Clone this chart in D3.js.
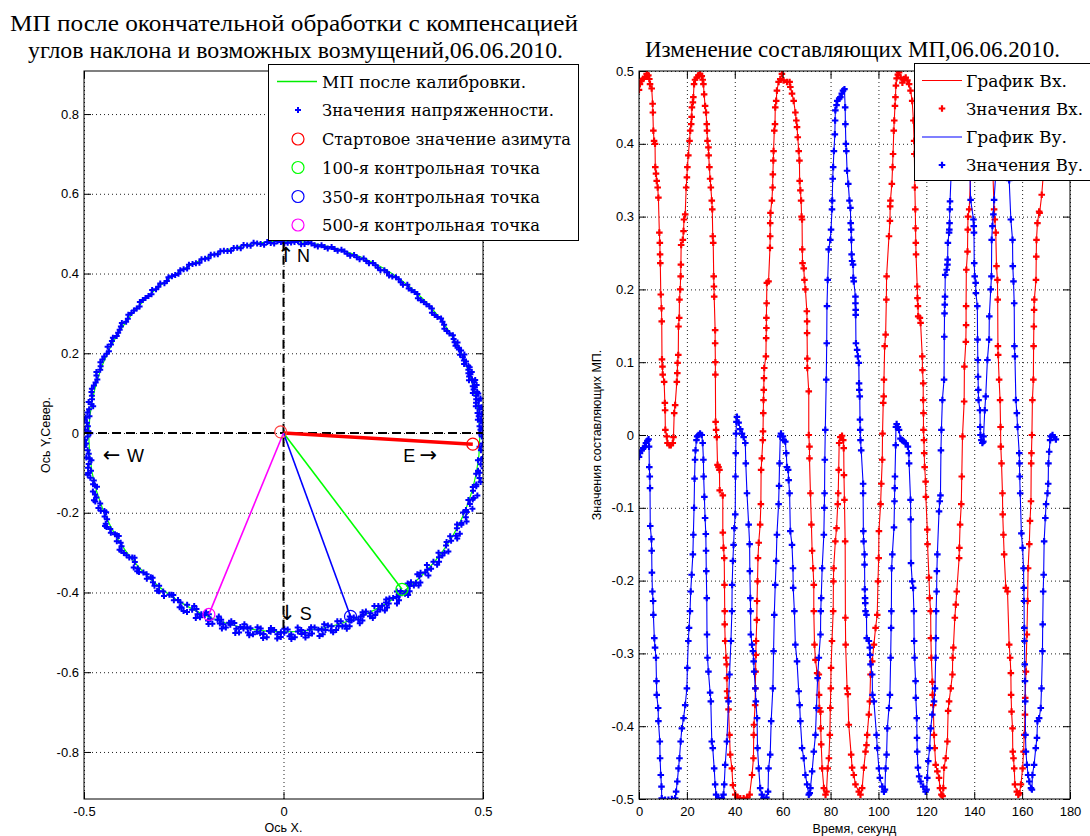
<!DOCTYPE html>
<html><head><meta charset="utf-8">
<script src="https://cdn.jsdelivr.net/npm/d3@7"></script>
<style>body{margin:0;background:#fff}svg{display:block}</style>
</head><body>
<svg id="c" width="1090" height="836"></svg>
<script>
// ---------------- DATA ----------------
const leftTitle = ["МП после окончательной обработки с компенсацией", "углов наклона и возможных возмущений,06.06.2010."];
const rightTitle = "Изменение составляющих МП,06.06.2010.";
const leftXTicks = [-0.5, 0, 0.5];
const leftYTicks = [-0.8, -0.6, -0.4, -0.2, 0, 0.2, 0.4, 0.6, 0.8];
const rightXTicks = [0, 20, 40, 60, 80, 100, 120, 140, 160, 180];
const rightYTicks = [-0.5, -0.4, -0.3, -0.2, -0.1, 0, 0.1, 0.2, 0.3, 0.4, 0.5];
const leftLegend = ["МП после калибровки.", "Значения напряженности.", "Стартовое значение азимута", "100-я контрольная точка", "350-я контрольная точка", "500-я контрольная точка"];
const rightLegend = ["График Вх.", "Значения Вх.", "График Ву.", "Значения Ву."];
// calibrated circle (centre, radius)
const calibCenter = [0.002, -0.009];
const calibRadius = 0.49;
// control points: start, 100th, 350th, 500th
const controlPoints = [[0.4745, -0.028], [0.297, -0.392], [0.168, -0.46], [-0.187, -0.455]];
const controlColors = ["#ff0000", "#00ff00", "#0000ff", "#ff00ff"];
const originMarker = [-0.007, 0.003];
// compass annotations: [text, x, y]
const compassArrows = [["↑", 0.006, 0.429], ["↓", 0.009, -0.469], ["←", -0.431, -0.073], ["→", 0.363, -0.073]];
const compassLetters = [["N", 0.034, 0.429], ["S", 0.041, -0.469], ["W", -0.392, -0.073], ["E", 0.300, -0.073]];
// measured field points: [angle deg around calibCenter, radius]
const fieldPoints = [[0,.495],[2,.492],[4,.498],[6,.49],[8,.494],[10,.488],[12,.492],[14,.489],[16,.495],[18,.487],[20,.491],[22,.486],[24,.49],[26,.493],[28,.486],[30,.49],[32,.488],[34,.484],[36,.49],[38,.487],[40,.483],[42,.489],[44,.486],[46,.482],[48,.488],[50,.485],[52,.483],[54,.488],[56,.484],[58,.486],[60,.482],[62,.487],[64,.484],[66,.489],[68,.485],[70,.483],[72,.488],[74,.485],[76,.49],[78,.486],[80,.484],[82,.489],[84,.486],[86,.491],[88,.487],[90,.485],[92,.49],[94,.487],[96,.484],[98,.489],[100,.486],[102,.491],[104,.488],[106,.485],[108,.49],[110,.487],[112,.492],[114,.488],[116,.485],[118,.49],[120,.487],[122,.492],[124,.489],[126,.494],[128,.488],[130,.491],[132,.495],[134,.49],[136,.493],[138,.488],[140,.492],[142,.496],[144,.49],[146,.494],[148,.491],[150,.496],[152,.492],[154,.489],[156,.494],[158,.497],[160,.491],[162,.495],[164,.492],[166,.497],[168,.493],[170,.498],[172,.494],[174,.491],[176,.496],[178,.499],[180,.493],[182,.497],[184,.494],[186,.499],[188,.495],[190,.492],[192,.497],[194,.494],[196,.499],[198,.495],[200,.491],[202,.496],[204,.493],[206,.498],[208,.494],[210,.49],[212,.495],[214,.492],[216,.497],[218,.493],[220,.489],[222,.494],[224,.491],[226,.496],[228,.492],[230,.488],[232,.493],[234,.49],[236,.495],[238,.491],[240,.487],[242,.492],[244,.496],[246,.49],[248,.494],[250,.489],[252,.495],[254,.491],[256,.497],[258,.492],[260,.488],[262,.494],[264,.498],[266,.491],[268,.496],[270,.492],[272,.497],[274,.49],[276,.495],[278,.499],[280,.492],[282,.496],[284,.49],[286,.494],[288,.498],[290,.491],[292,.495],[294,.489],[296,.493],[298,.497],[300,.49],[302,.494],[304,.488],[306,.492],[308,.496],[310,.489],[312,.493],[314,.487],[316,.491],[318,.495],[320,.488],[322,.492],[324,.496],[326,.489],[328,.493],[330,.497],[332,.49],[334,.494],[336,.498],[338,.491],[340,.495],[342,.499],[344,.492],[346,.496],[348,.5],[350,.493],[352,.497],[354,.501],[356,.494],[358,.498],
[1,.497],[3,.49],[5,.495],[7,.488],[9,.493],[11,.49],[13,.496],[15,.489],[17,.492],[19,.488],[21,.494],[23,.489],[25,.486],[27,.491],[29,.488],[31,.493],[33,.486],[35,.489],[37,.492],[39,.485],[41,.49],[43,.487],[45,.484],[47,.489],[49,.486],[51,.49],[53,.485],[55,.488],[57,.482],[59,.487],[61,.484],[63,.489],[65,.486],[67,.483],[69,.488],[71,.485],[73,.49],[75,.487],[77,.484],[79,.489],[81,.486],[83,.491],[85,.484],[87,.489],[89,.486],[91,.488],[93,.485],[95,.49],[97,.487],[99,.492],[101,.488],[103,.485],[105,.49],[107,.487],[109,.492],[111,.489],[113,.486],[115,.491],[117,.488],[119,.493],[121,.49],[123,.487],[125,.491],[127,.489],[129,.494],[131,.49],[133,.488],[135,.492],[137,.495],[139,.49],[141,.493],[143,.491],[145,.497],[147,.492],[149,.49],[151,.494],[153,.497],[155,.491],[157,.495],[159,.493],[161,.498],[163,.49],[165,.494],[167,.496],[169,.491],[173,.497],[177,.493],[181,.5],[185,.492],[189,.498],[193,.49],[197,.496],[201,.499],[205,.49],[209,.497],[213,.489],[217,.495],[221,.5],[225,.488],[229,.496],[233,.501],[237,.489],
[241,.503],[243,.485],[245,.5],[247,.484],[249,.503],[251,.486],[253,.501],[255,.484],[257,.504],[259,.487],[261,.502],[263,.485],[265,.505],[267,.486],[269,.503],[271,.484],[273,.504],[275,.487],[277,.502],[279,.485],[281,.505],[283,.486],[285,.502],[287,.484],[289,.503],[291,.486],[293,.501],[295,.484],[297,.502],[299,.486],[301,.5],[303,.484],[305,.501],[307,.485],[309,.499],[311,.484],[313,.5],[315,.483],
[240,.505],[242,.481],[244,.506],[246,.482],[248,.507],[250,.48],[252,.506],[254,.482],[256,.508],[258,.481],[260,.506],[262,.483],[264,.508],[266,.481],[268,.507],[270,.482],[272,.508],[274,.48],[276,.507],[278,.483],[280,.508],[282,.481],[284,.506],[286,.482],[288,.507],[290,.48],[292,.505],[294,.482],[296,.506],[298,.481],[300,.504],[302,.482],[304,.505],[306,.48],[308,.504],[310,.481],[312,.503],[314,.48],[316,.502],[318,.481],[320,.5],
[325,.502],[327,.485],[331,.503],[333,.486],[335,.504],[337,.487],[339,.505],[341,.488],[343,.506],[345,.489],[347,.505],[349,.49],[351,.506],[353,.489],[355,.507],[357,.49],[359,.506],[1,.489],[3,.505],[5,.487],[7,.503],[9,.486],[11,.501],[13,.485],[15,.499],[17,.484],[19,.497],
[321,.499],[323,.484],[329,.485],[329.5,.503],[333.5,.496],[337.5,.495],[341.5,.498],[345.5,.497],[349.5,.498],[353.5,.499],[357.5,.5],[0.5,.5],[2.5,.501],[4.5,.494],[6.5,.499],[8.5,.5],[10.5,.496],[12.5,.498],[14.5,.493],[16.5,.499],[18.5,.492],[20.5,.496],[22.5,.493],[24.5,.496],[26.5,.489],[28.5,.494],
[171,.485],[175,.502],[179,.486],[183,.503],[187,.487],[191,.502],[195,.486],[199,.501],[203,.485],[207,.5],[211,.484],[215,.499],[219,.483],[223,.498],[227,.484],[231,.499],[235,.485],[239,.5],
[170.5,.49],[174.5,.5],[178.5,.492],[182.5,.501],[186.5,.491],[190.5,.5],[194.5,.49],[198.5,.503],[202.5,.488],[206.5,.502],[210.5,.487],[214.5,.501],[218.5,.487],[222.5,.5],[226.5,.486],[230.5,.501],[234.5,.487],[238.5,.502],
[245,.492],[251,.496],[257,.49],[263,.497],[269,.491],[275,.497],[281,.492],[287,.498],[293,.49],[299,.496],[305,.491],[311,.495],[317,.49],[323,.496],[247.5,.499],[253.5,.487],[259.5,.5],[265.5,.489],[271.5,.501],[277.5,.488],[283.5,.5],[289.5,.487],[295.5,.499],[301.5,.488],[307.5,.497]];

// time series: [time s, value]
const bxData = [[0,.474],[0.4,.482],[1.1,.487],[1.8,.489],[2.5,.492],[3.2,.496],[3.9,.494],[4.3,.489],[4.6,.482],[5.3,.476],[5.7,.455],[5.8,.443],[6.0,.418],[6.3,.404],[6.7,.4],[6.8,.368],[7.1,.359],[7.4,.349],[7.8,.34],[8.1,.326],[8.5,.278],[8.7,.264],[8.8,.248],[8.9,.236],[9.1,.193],[9.4,.174],[9.5,.156],[9.6,.104],[9.8,.094],[9.9,.083],[10.5,.073],[10.8,.044],[10.9,.034],[11.0,.007],[11.6,-.002],[11.9,-.011],[12.7,-.014],[13.3,-.014],[14.1,-.011],[14.4,-.003],[14.7,.03],[15.1,.041],[15.8,.073],[16.0,.085],[16.1,.099],[16.4,.11],[16.5,.149],[16.8,.161],[16.9,.186],[17.2,.2],[17.4,.218],[17.5,.234],[17.6,.261],[18.3,.268],[18.6,.28],[18.8,.296],[19.3,.303],
[19.7,.34],[20.0,.354],[20.2,.368],[20.6,.384],[21.1,.404],[21.4,.418],[21.8,.427],[22.0,.437],[22.1,.45],[22.5,.457],[22.7,.464],[23.0,.482],[23.4,.488],[24.1,.491],[24.8,.494],[25.5,.496],[26.2,.493],[26.6,.488],[26.9,.482],[27.2,.468],[27.6,.452],[28.0,.443],[28.3,.427],[28.4,.418],[28.6,.404],[29.0,.395],[29.1,.384],[29.4,.368],[29.7,.352],[30.0,.34],[30.4,.322],
[30.6,.31],[30.8,.273],[31.0,.264],[31.2,.218],[31.3,.204],[31.4,.19],[31.8,.144],[31.8,.126],[31.9,.1],[31.9,.083],[32.0,.018],[32.2,.007],[32.5,-.003],[32.8,-.041],[33.2,-.044],[33.6,-.048],[33.7,-.076],[35.0,-.083],
[35.0,-.134],[35.3,-.155],[35.6,-.169],[35.7,-.206],[35.8,-.242],[35.8,-.26],[36.0,-.283],[36.4,-.306],[36.6,-.315],[36.7,-.334],[36.8,-.352],[37.0,-.361],[37.4,-.377],[37.8,-.412],[38.1,-.439],[38.8,-.458],[39.2,-.481],[40.2,-.494],[41.2,-.498],[42.3,-.499],[43.7,-.499],[45.1,-.498],[46.2,-.494],[47.2,-.467],[47.8,-.444],[47.9,-.412],[48.0,-.398],[48.5,-.371],[48.6,-.348],[48.7,-.325],[48.8,-.302],[48.9,-.283],[49.2,-.254],[49.3,-.228],[49.5,-.201],[49.7,-.169],[50.0,-.148],[50.6,-.123],[50.9,-.095],
[51.0,-.048],[51.3,-.032],[51.7,-.007],[51.8,.005],[51.9,.03],[52.0,.048],[52.1,.062],[52.2,.078],[52.3,.092],[53.0,.108],[53.1,.133],[53.2,.147],[53.2,.161],[53.3,.181],[53.4,.209],[54.1,.211],[54.7,.257],[54.8,.273],[54.8,.291],[54.9,.305],
[55.5,.322],[55.8,.34],[55.9,.358],[56.1,.377],[56.2,.39],[56.5,.418],[56.8,.427],[56.9,.45],[57.3,.459],[57.6,.473],[58.3,.485],[59.0,.489],[59.7,.496],[60.4,.487],[61.8,.485],[62.9,.485],[63.2,.478],[63.9,.469],[64.6,.459],[65.3,.443],[65.7,.432],[66.0,.423],[66.3,.409],[66.7,.39],[67.0,.377],[67.1,.349],[67.4,.336],[67.7,.322],
[67.9,.3],[68.1,.296],[68.2,.255],[68.3,.236],[68.8,.229],[69.1,.213],[69.5,.2],[70.1,.17],[70.2,.156],[70.2,.14],[70.3,.105],[70.3,.092],[70.9,.06],[70.9,0],[71.2,-.016],[71.2,-.032],[71.6,-.08],
[72.0,-.123],[72.3,-.159],[72.7,-.183],[73.0,-.206],[73.0,-.242],[73.3,-.288],[73.7,-.309],[74.4,-.327],[75.1,-.329],[75.2,-.357],[75.3,-.375],[75.8,-.38],[75.9,-.403],[76.1,-.425],[76.5,-.458],[77.2,-.485],[77.9,-.494],[78.3,-.49],[78.8,-.458],[79.3,-.444],[79.7,-.412],[79.9,-.375],[80.1,-.348],[80.2,-.32],[80.6,-.283],[81.1,-.242],[81.2,-.201],[81.3,-.183],[82.0,-.146],[82.5,-.128],[83.0,-.095],
[83.2,-.08],[83.4,-.048],[83.6,-.011],[84.1,-.003],[84.8,-.001],[85.3,-.007],[85.5,-.018],[85.6,-.055],[85.8,-.089],
[86.1,-.146],[86.2,-.251],[86.3,-.288],[86.9,-.348],[87.2,-.356],[87.6,-.398],[88.6,-.439],[89.0,-.457],[89.7,-.467],[90.4,-.48],[91.8,-.49],[92.5,-.494],[93.2,-.485],[93.9,-.457],[94.6,-.435],[95.0,-.426],[95.3,-.412],[96.0,-.384],[96.4,-.366],[96.7,-.329],[97.4,-.311],[98.1,-.288],[98.8,-.265],[99.5,-.247],[99.8,-.201],[100.1,-.169],[100.2,-.132],[100.9,-.095],
[101.2,-.067],[101.6,-.034],[101.7,.002],[102.0,.044],[102.2,.053],[102.3,.076],[102.6,.122],[103.0,.138],[103.3,.186],[103.4,.218],[104.4,.273],[104.8,.294],[104.9,.314],
[105.0,.322],[105.6,.345],[105.9,.368],[106.1,.386],[106.4,.418],[106.6,.432],[106.9,.452],[107.1,.464],[107.3,.48],[107.6,.49],[108.1,.495],[108.6,.498],[109.3,.491],[110.0,.484],[110.7,.489],[111.4,.491],[112.1,.487],[112.8,.482],[113.4,.473],[114.1,.459],[114.6,.432],[114.9,.404],[115.0,.386],[115.2,.34],[115.4,.31],
[115.5,.284],[115.6,.264],[115.7,.248],[116.2,.204],[116.3,.188],[116.5,.177],[116.6,.163],[117.3,.161],[117.6,.154],[118.3,.108],[118.4,.089],[118.7,.071],[118.7,.048],[118.8,.03],[118.8,.007],[119.0,-.007],[119.1,-.025],[119.3,-.044],[119.7,-.064],[119.8,-.085],
[120.4,-.13],[120.5,-.15],[121.1,-.196],[121.4,-.224],[121.8,-.242],[121.9,-.279],[122.1,-.306],[122.5,-.339],[122.6,-.357],[122.9,-.371],[123.2,-.412],[123.5,-.43],[123.9,-.453],[124.6,-.462],[125.3,-.471],[125.7,-.485],[126.3,-.494],[126.8,-.496],[127.1,-.485],[127.4,-.457],[128.1,-.444],[128.8,-.421],[129.1,-.379],[129.5,-.366],[130.2,-.348],[130.9,-.329],[131.0,-.306],[131.3,-.292],[131.9,-.251],[132.3,-.233],[132.7,-.215],[133.7,-.169],[133.8,-.155],[134.1,-.123],[134.6,-.095],
[134.8,-.057],[135.1,-.002],[135.8,.046],[135.9,.094],[136.5,.128],[136.6,.151],[136.6,.177],[136.7,.227],[137.2,.252],[137.3,.282],[137.4,.3],[137.9,.31],
[138.8,.38],[139.8,.44],[141.0,.485],[142.5,.498],[144.0,.494],[145.5,.47],[146.8,.42],[147.8,.36],
[148.3,.31],[148.6,.296],[149.0,.278],[149.3,.232],[149.7,.213],[149.8,.186],[149.9,.122],[150.0,.11],[150.4,.076],[150.8,.048],[151.0,.011],[151.1,-.016],[151.4,-.039],[151.8,-.08],
[151.9,-.109],[152.2,-.137],[152.5,-.164],[153.2,-.21],[153.9,-.215],[154.6,-.288],[155.0,-.306],[155.3,-.327],[155.4,-.357],[155.6,-.38],[156.0,-.403],[156.1,-.435],[156.4,-.444],[156.7,-.458],[157.0,-.48],[157.8,-.49],[158.4,-.494],[158.9,-.492],[159.5,-.48],[160.2,-.458],[160.6,-.435],[160.9,-.412],[161.2,-.384],[161.3,-.361],[161.6,-.325],[162.0,-.274],[162.3,-.228],[162.5,-.183],[163.0,-.15],[163.3,-.118],[163.7,-.091],
[163.8,-.039],[163.9,-.025],[164.1,0],[164.3,.048],[164.7,.076],[164.8,.122],[164.9,.149],[165.0,.172],[165.1,.186],[165.8,.213],[165.9,.245],[166.0,.268],[166.4,.291],[167.1,.307],[167.3,.305],[168.2,.33],[168.9,.36],[169.6,.4],[170.5,.44],[171.5,.47],[172.5,.49],[174.0,.498]];

const byData = [[0,-.03],[0.4,-.025],[1.1,-.021],[1.8,-.018],[2.5,-.016],[2.9,-.011],[3.5,-.008],[4.0,-.006],[4.2,-.016],[4.3,-.044],[4.5,-.057],[4.6,-.073],
[4.7,-.125],[5.2,-.143],[5.3,-.159],[5.4,-.189],[5.6,-.215],[5.9,-.228],[6.0,-.247],[6.4,-.279],[6.7,-.292],[7.1,-.306],[7.3,-.338],[7.4,-.357],[8.0,-.375],[8.1,-.393],[8.7,-.421],[8.8,-.444],[9.1,-.467],[9.4,-.483],[9.5,-.499],[10.9,-.501],[12.3,-.501],[13.7,-.5],[15.1,-.499],[15.5,-.49],[16.0,-.476],[16.5,-.458],[16.9,-.444],[17.4,-.421],[17.9,-.403],[18.6,-.389],[19.3,-.371],[20.0,-.348],[20.2,-.32],[20.6,-.283],[20.9,-.265],[21.3,-.242],[21.6,-.215],[22.0,-.192],[22.5,-.164],[22.7,-.137],[23.0,-.1],
[23.2,-.06],[23.4,-.034],[23.6,-.021],[24.0,-.007],[24.3,-.002],[24.9,0],[25.5,.002],[26.2,0],[26.6,-.011],[26.9,-.034],[27.0,-.057],[27.3,-.085],
[27.6,-.114],[27.9,-.136],[28.0,-.159],[28.1,-.187],[28.3,-.224],[28.4,-.274],[28.6,-.306],[29.0,-.325],[29.7,-.354],[30.0,-.366],[30.4,-.421],[30.8,-.43],[31.4,-.458],[31.8,-.48],[32.2,-.494],[33.2,-.499],[34.6,-.499],[35.3,-.494],[35.6,-.48],[36.0,-.453],[36.7,-.421],[37.4,-.366],[37.8,-.329],[38.4,-.283],[38.8,-.242],[38.9,-.206],[39.2,-.173],[39.5,-.151],[39.8,-.128],[40.2,-.109],
[40.3,-.057],[40.4,-.025],[40.5,.002],[40.7,.018],[40.9,.025],[41.6,.017],[42.3,.008],[43.0,.002],[43.7,-.003],[44.4,-.011],[44.6,-.039],[45.1,-.08],
[45.8,-.123],[46.2,-.15],[46.3,-.187],[46.5,-.224],[46.6,-.242],[46.7,-.274],[47.2,-.288],[47.6,-.297],[47.9,-.311],[48.1,-.325],[48.6,-.348],[48.8,-.366],[49.3,-.389],[49.5,-.43],[50.0,-.458],[50.6,-.485],[51.3,-.494],[52.0,-.499],[53.2,-.498],[53.9,-.49],[54.1,-.458],[54.8,-.439],[55.2,-.393],[55.9,-.348],[56.2,-.297],[56.5,-.247],[56.9,-.206],[57.3,-.173],[57.6,-.137],[58.3,-.095],
[58.5,-.07],[58.7,-.039],[59.0,-.002],[59.3,.002],[60.1,-.002],[60.4,-.007],[61.1,-.009],[61.5,-.025],[61.8,-.044],[62.3,-.048],[62.5,-.062],[62.9,-.08],
[63.2,-.132],[63.9,-.151],[64.3,-.183],[64.4,-.21],[64.9,-.242],[65.3,-.288],[66.0,-.311],[66.7,-.352],[67.1,-.371],[67.4,-.393],[68.1,-.43],[68.8,-.444],[69.5,-.467],[70.2,-.48],[70.9,-.494],[71.3,-.492],[71.6,-.485],[72.3,-.462],[73.0,-.435],[73.7,-.412],[74.1,-.375],[74.6,-.334],[75.1,-.306],[75.8,-.274],[75.9,-.242],[76.1,-.224],[76.5,-.183],[77.2,-.137],[77.4,-.1],
[77.5,-.08],[77.6,-.034],[77.8,.007],[78.2,.076],[78.4,.126],[78.5,.177],[78.8,.213],[79.2,.255],[79.9,.268],[80.2,.282],[80.6,.31],
[80.7,.322],[80.9,.352],[81.1,.368],[81.4,.39],[81.8,.413],[81.9,.432],[82.0,.446],[82.5,.453],[82.8,.459],[83.6,.462],[84.1,.464],[84.7,.469],[85.2,.473],[85.8,.475],[86.1,.45],[86.2,.427],[86.4,.4],[86.6,.39],[86.9,.363],[87.4,.345],[87.9,.322],
[88.3,.312],[88.4,.291],[88.6,.282],[88.7,.268],[88.8,.248],[89.0,.239],[89.4,.234],[89.5,.216],[89.7,.211],[90.4,.19],[90.4,.181],[90.5,.172],[90.5,.165],[90.6,.126],[91.1,.117],[91.4,.108],[91.8,.099],[91.9,.071],[92.0,.062],[92.2,.053],[92.3,.021],[92.4,.007],[92.5,-.007],[92.8,-.021],[93.6,-.067],[93.6,-.08],
[93.7,-.132],[93.8,-.146],[94.2,-.164],[94.2,-.178],[94.3,-.212],[94.4,-.224],[94.5,-.231],[94.6,-.242],[95.0,-.247],[95.1,-.279],[96.0,-.283],[96.4,-.292],[96.5,-.302],[96.7,-.315],[97.4,-.329],[97.5,-.357],[98.1,-.366],[99.2,-.412],[99.5,-.43],[100.2,-.458],[100.6,-.471],[101.6,-.483],[102.3,-.49],[102.7,-.487],[103.0,-.458],[103.4,-.439],[103.7,-.403],[104.4,-.375],[104.8,-.357],[105.1,-.306],[105.3,-.265],[105.4,-.242],[105.5,-.183],[105.8,-.164],[106.5,-.127],[106.7,-.091],
[106.8,-.073],[106.9,-.057],[107.2,-.014],[107.3,.011],[107.6,.015],[108.1,.011],[108.6,.007],[109.2,-.005],[109.9,-.007],[110.6,-.009],[111.3,-.011],[112.3,-.016],[112.7,-.025],[112.8,-.039],[113.4,-.089],
[113.5,-.116],[113.6,-.176],[114.1,-.201],[114.5,-.21],[114.8,-.242],[114.9,-.283],[115.1,-.306],[115.5,-.338],[115.6,-.361],[116.0,-.389],[116.1,-.416],[116.2,-.435],[116.5,-.457],[117.0,-.469],[117.6,-.476],[118.7,-.483],[119.7,-.49],[120.1,-.487],[120.4,-.471],[120.8,-.448],[121.4,-.43],[121.8,-.403],[122.5,-.384],[123.2,-.366],[123.6,-.348],[123.9,-.306],[124.0,-.279],[124.1,-.242],[124.3,-.215],[124.4,-.187],[124.6,-.164],[125.3,-.105],[125.6,-.091],
[125.9,-.083],[126.1,-.021],[126.3,.007],[126.7,.048],[127.4,.076],[127.5,.135],[127.6,.167],[127.7,.179],[127.8,.19],[127.9,.22],[128.5,.227],[128.8,.234],[128.9,.241],[129.0,.264],[129.5,.278],[129.6,.282],[129.7,.291],[129.8,.31],[129.9,.321],
[130.5,.37],[131.5,.43],[133.0,.47],[134.5,.49],[136.0,.47],[137.2,.42],[138.2,.36],
[138.5,.323],[139.7,.296],[139.8,.287],[139.9,.278],[140.0,.236],[140.2,.218],[140.6,.209],[140.7,.195],[141.3,.177],[141.4,.131],[141.5,.103],[141.6,.08],[141.7,.062],[141.8,.048],[142.4,.034],[142.5,.011],[142.6,0],[143.0,-.007],[143.4,-.011],[143.8,-.009],[143.9,-.002],[144.4,.034],[144.8,.053],[145.5,.103],[146.2,.131],[146.3,.163],[146.9,.2],[147.2,.218],[147.3,.268],[147.6,.287],[148.0,.303],[148.3,.323],
[149.2,.37],[150.2,.43],[151.5,.47],[152.5,.48],[153.5,.45],[154.2,.4],[154.6,.35],
[155.3,.296],[156.0,.268],[156.1,.232],[156.4,.211],[156.7,.181],[156.8,.122],[157.0,.108],[157.4,.048],[157.8,.03],[158.1,.011],[158.8,-.025],[158.9,-.039],[159.0,-.057],[159.2,-.08],
[159.7,-.135],[160.2,-.155],[160.6,-.183],[160.7,-.21],[160.8,-.228],[160.9,-.265],[161.0,-.283],[161.1,-.315],[161.2,-.338],[161.3,-.366],[161.4,-.412],[161.6,-.435],[162.0,-.453],[162.5,-.467],[163.0,-.476],[163.7,-.485],[164.1,-.487],[164.3,-.467],[165.0,-.453],[165.7,-.43],[166.2,-.416],[166.4,-.393],[167.1,-.389],[167.8,-.375],[168.1,-.348],[168.5,-.297],[168.6,-.26],[168.8,-.215],[169.0,-.192],[169.2,-.146],[169.7,-.114],[170.0,-.095],
[170.6,-.08],[170.9,-.067],[171.0,-.039],[171.3,-.023],[171.7,-.007],[172.0,-.002],[172.7,0],[173.4,-.003],[174.1,-.006]];

// ---------------- DRAWING ----------------
const svg = d3.select("#c");
const sans = "'Liberation Sans', Arial, sans-serif";
const serif = "'DejaVu Serif', serif";
const titleSerif = "'Liberation Serif', 'Times New Roman', serif";
const defs = svg.append("defs");

function panel(box, xs, ys, xt, yt, fx, fy, clipId) {
  const g = svg.append("g");
  defs.append("clipPath").attr("id", clipId).append("rect")
    .attr("x", box.l).attr("y", box.t).attr("width", box.r - box.l).attr("height", box.b - box.t);
  const gx = g.append("g").attr("transform", `translate(0,${box.b})`)
    .call(d3.axisBottom(xs).tickValues(xt).tickSize(-(box.b - box.t)).tickFormat(""));
  const gy = g.append("g").attr("transform", `translate(${box.l},0)`)
    .call(d3.axisLeft(ys).tickValues(yt).tickSize(-(box.r - box.l)).tickFormat(""));
  [gx, gy].forEach(a => { a.select(".domain").remove();
    a.selectAll("line").attr("stroke", "#222").attr("stroke-dasharray", "1,3").attr("stroke-width", 1); });
  const data = g.append("g").attr("clip-path", `url(#${clipId})`);
  const frame = svg.append("g");
  return {g, data, frame, draw() {
    const ax = [
      [d3.axisBottom(xs).tickValues(xt).tickSizeInner(-7).tickSizeOuter(0).tickPadding(8).tickFormat(fx), `translate(0,${box.b})`],
      [d3.axisTop(xs).tickValues(xt).tickSizeInner(-7).tickSizeOuter(0).tickFormat(""), `translate(0,${box.t})`],
      [d3.axisLeft(ys).tickValues(yt).tickSizeInner(-7).tickSizeOuter(0).tickPadding(5).tickFormat(fy), `translate(${box.l},0)`],
      [d3.axisRight(ys).tickValues(yt).tickSizeInner(-7).tickSizeOuter(0).tickFormat(""), `translate(${box.r},0)`]
    ];
    ax.forEach(([a, tr]) => {
      const s = frame.append("g").attr("transform", tr).call(a);
      s.select(".domain").remove();
      s.selectAll("line").attr("stroke", "#000");
      s.selectAll("text").attr("font-family", sans).attr("font-size", 13).attr("fill", "#000");
    });
    frame.append("rect").attr("x", box.l).attr("y", box.t).attr("width", box.r - box.l).attr("height", box.b - box.t)
      .attr("fill", "none").attr("stroke", "#000").attr("stroke-width", 1);
  }};
}
const fmt = d => (d === 0 ? "0" : String(d));

// ===== LEFT PANEL =====
const LB = {l: 84, r: 483, t: 71, b: 799};
const lx = d3.scaleLinear().domain([-0.5, 0.5]).range([LB.l, LB.r]);
const ly = d3.scaleLinear().domain([-0.918, 0.908]).range([LB.b, LB.t]);
const P1 = panel(LB, lx, ly, leftXTicks, leftYTicks, fmt, fmt, "clipL");

P1.data.append("ellipse")
  .attr("cx", lx(calibCenter[0])).attr("cy", ly(calibCenter[1]))
  .attr("rx", lx(calibRadius) - lx(0)).attr("ry", ly(0) - ly(calibRadius))
  .attr("fill", "none").attr("stroke", "#00ff00").attr("stroke-width", 1.2);
const crossSmall = d3.symbol(d3.symbolCross).size(20)();
P1.data.append("g").selectAll("path").data(fieldPoints).join("path")
  .attr("d", crossSmall)
  .attr("transform", d => {
    const a = d[0] * Math.PI / 180;
    const x = calibCenter[0] + d[1] * Math.cos(a), y = calibCenter[1] + d[1] * Math.sin(a);
    return `translate(${lx(x)},${ly(y)})`;
  })
  .attr("fill", "#0000ff");
P1.data.append("line").attr("x1", lx(-0.5)).attr("x2", lx(0.5)).attr("y1", ly(0)).attr("y2", ly(0))
  .attr("stroke", "#000").attr("stroke-width", 2).attr("stroke-dasharray", "9,5");
P1.data.append("line").attr("x1", lx(0)).attr("x2", lx(0)).attr("y1", ly(0.48)).attr("y2", ly(-0.49))
  .attr("stroke", "#000").attr("stroke-width", 2).attr("stroke-dasharray", "9,5");
controlPoints.forEach((p, i) => {
  P1.data.append("line").attr("x1", lx(0)).attr("y1", ly(0)).attr("x2", lx(p[0])).attr("y2", ly(p[1]))
    .attr("stroke", controlColors[i]).attr("stroke-width", i === 0 ? 3.5 : 1.6);
});
P1.data.append("circle").attr("cx", lx(originMarker[0])).attr("cy", ly(originMarker[1])).attr("r", 6)
  .attr("fill", "none").attr("stroke", "#ff4040").attr("stroke-width", 1.2);
controlPoints.forEach((p, i) => {
  P1.data.append("circle").attr("cx", lx(p[0])).attr("cy", ly(p[1])).attr("r", 6)
    .attr("fill", "none").attr("stroke", controlColors[i]).attr("stroke-width", 1.2);
});
compassArrows.forEach(c => {
  P1.data.append("text").attr("x", lx(c[1])).attr("y", ly(c[2])).text(c[0]).attr("text-anchor", "middle")
    .attr("font-family", "'DejaVu Sans', sans-serif").attr("font-size", 21).attr("fill", "#000");
});
compassLetters.forEach(c => {
  P1.data.append("text").attr("x", lx(c[1])).attr("y", ly(c[2])).text(c[0])
    .attr("font-family", sans).attr("font-size", 18).attr("fill", "#000");
});
P1.draw();

// ===== RIGHT PANEL =====
const RB = {l: 639, r: 1070, t: 71, b: 799};
const rx = d3.scaleLinear().domain([0, 180]).range([RB.l, RB.r]);
const ry = d3.scaleLinear().domain([-0.5, 0.5]).range([RB.b, RB.t]);
const P2 = panel(RB, rx, ry, rightXTicks, rightYTicks, fmt, fmt, "clipR");
const line = d3.line().x(d => rx(d[0])).y(d => ry(d[1]));
const crossBig = d3.symbol(d3.symbolCross).size(24)();
[[bxData, "#ff0000"], [byData, "#0000ff"]].forEach(([ds, col]) => {
  P2.data.append("path").attr("d", line(ds)).attr("fill", "none").attr("stroke", col).attr("stroke-width", 1.1);
  P2.data.append("g").selectAll("path").data(ds).join("path")
    .attr("d", crossBig).attr("transform", d => `translate(${rx(d[0])},${ry(d[1])})`).attr("fill", col);
});
P2.draw();

// ===== Titles & labels =====
function ttext(x, y, s, len, size) {
  return svg.append("text").attr("x", x).attr("y", y).text(s)
    .attr("font-family", titleSerif).attr("font-size", size).attr("fill", "#000")
    .attr("textLength", len).attr("lengthAdjust", "spacingAndGlyphs");
}
ttext(10, 31, leftTitle[0], 568, 23);
ttext(28, 58, leftTitle[1], 535, 23);
ttext(645, 57, rightTitle, 415, 23);

svg.append("text").attr("x", (LB.l + LB.r) / 2).attr("y", 832).attr("text-anchor", "middle")
  .attr("font-family", sans).attr("font-size", 12.5).text("Ось X.");
svg.append("text").attr("x", (RB.l + RB.r) / 2).attr("y", 833).attr("text-anchor", "middle")
  .attr("font-family", sans).attr("font-size", 12.5).text("Время, секунд");
svg.append("text").attr("transform", `translate(50,${(LB.t + LB.b) / 2}) rotate(-90)`).attr("text-anchor", "middle")
  .attr("font-family", sans).attr("font-size", 12.5).text("Ось Y,Север.");
svg.append("text").attr("transform", `translate(601,${(RB.t + RB.b) / 2}) rotate(-90)`).attr("text-anchor", "middle")
  .attr("font-family", sans).attr("font-size", 12.5).text("Значения составляющих МП.");

// ===== Legends =====
function legendText(x, y, s, len) {
  svg.append("text").attr("x", x).attr("y", y + 6).text(s)
    .attr("font-family", serif).attr("font-size", 17).attr("fill", "#000")
    .attr("textLength", len).attr("lengthAdjust", "spacingAndGlyphs");
}
svg.append("rect").attr("x", 268.5).attr("y", 64.5).attr("width", 310).attr("height", 176)
  .attr("fill", "#fff").attr("stroke", "#000");
const lRows = [81.5, 110, 139, 167.5, 196.5, 225];
const lLens = [204, 232, 249, 218, 218, 218];
svg.append("line").attr("x1", 277).attr("x2", 317).attr("y1", lRows[0]).attr("y2", lRows[0])
  .attr("stroke", "#00ee00").attr("stroke-width", 1.3);
svg.append("path").attr("d", crossSmall).attr("transform", `translate(298,${lRows[1]})`).attr("fill", "#0000ff");
controlColors.forEach((c, i) => {
  svg.append("circle").attr("cx", 298).attr("cy", lRows[i + 2]).attr("r", 6)
    .attr("fill", "none").attr("stroke", c).attr("stroke-width", 1.2);
});
leftLegend.forEach((s, i) => legendText(322, lRows[i], s, lLens[i]));

svg.append("rect").attr("x", 914.5).attr("y", 63.5).attr("width", 190).attr("height", 117)
  .attr("fill", "#fff").attr("stroke", "#000");
const rRows = [80.5, 108.5, 137, 165];
const rLens = [101, 117, 101, 117];
svg.append("line").attr("x1", 922).attr("x2", 962).attr("y1", rRows[0]).attr("y2", rRows[0]).attr("stroke", "#ff0000").attr("stroke-width", 1.2);
svg.append("path").attr("d", crossBig).attr("transform", `translate(942,${rRows[1]})`).attr("fill", "#ff0000");
svg.append("line").attr("x1", 922).attr("x2", 962).attr("y1", rRows[2]).attr("y2", rRows[2]).attr("stroke", "#0000ff").attr("stroke-width", 1.2);
svg.append("path").attr("d", crossBig).attr("transform", `translate(942,${rRows[3]})`).attr("fill", "#0000ff");
rightLegend.forEach((s, i) => legendText(966, rRows[i], s, rLens[i]));
</script>
</body></html>
